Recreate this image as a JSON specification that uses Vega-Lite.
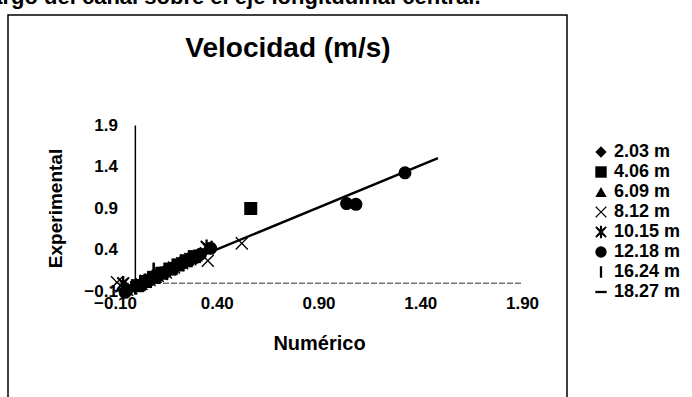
{
  "$schema": "https://vega.github.io/schema/vega-lite/v6.json",
  "width": 559,
  "height": 392,
  "autosize": {"type": "none"},
  "padding": {"left": 8, "top": 15, "right": 125, "bottom": -10},
  "background": "white",
  "datasets": {
    "puntos": [
      {"serie": "2.03 m", "numerico": -0.04, "experimental": -0.1},
      {"serie": "2.03 m", "numerico": 0.0, "experimental": -0.05},
      {"serie": "2.03 m", "numerico": 0.04, "experimental": 0.01},
      {"serie": "2.03 m", "numerico": 0.08, "experimental": 0.05},
      {"serie": "2.03 m", "numerico": 0.12, "experimental": 0.11},
      {"serie": "2.03 m", "numerico": 0.16, "experimental": 0.15},
      {"serie": "2.03 m", "numerico": 0.2, "experimental": 0.21},
      {"serie": "2.03 m", "numerico": 0.24, "experimental": 0.25},
      {"serie": "2.03 m", "numerico": 0.28, "experimental": 0.31},
      {"serie": "2.03 m", "numerico": 0.32, "experimental": 0.36},
      {"serie": "4.06 m", "numerico": 0.01, "experimental": -0.03},
      {"serie": "4.06 m", "numerico": 0.05, "experimental": 0.02},
      {"serie": "4.06 m", "numerico": 0.09, "experimental": 0.07},
      {"serie": "4.06 m", "numerico": 0.13, "experimental": 0.12},
      {"serie": "4.06 m", "numerico": 0.17, "experimental": 0.17},
      {"serie": "4.06 m", "numerico": 0.21, "experimental": 0.22},
      {"serie": "4.06 m", "numerico": 0.25, "experimental": 0.27},
      {"serie": "4.06 m", "numerico": 0.29, "experimental": 0.32},
      {"serie": "4.06 m", "numerico": 0.567, "experimental": 0.9},
      {"serie": "6.09 m", "numerico": 0.02, "experimental": -0.03},
      {"serie": "6.09 m", "numerico": 0.06, "experimental": 0.04},
      {"serie": "6.09 m", "numerico": 0.1, "experimental": 0.07},
      {"serie": "6.09 m", "numerico": 0.14, "experimental": 0.14},
      {"serie": "6.09 m", "numerico": 0.18, "experimental": 0.17},
      {"serie": "6.09 m", "numerico": 0.22, "experimental": 0.24},
      {"serie": "6.09 m", "numerico": 0.26, "experimental": 0.28},
      {"serie": "6.09 m", "numerico": 0.3, "experimental": 0.33},
      {"serie": "8.12 m", "numerico": -0.09, "experimental": 0.01},
      {"serie": "8.12 m", "numerico": -0.04, "experimental": -0.08},
      {"serie": "8.12 m", "numerico": 0.03, "experimental": -0.01},
      {"serie": "8.12 m", "numerico": 0.07, "experimental": 0.04},
      {"serie": "8.12 m", "numerico": 0.11, "experimental": 0.09},
      {"serie": "8.12 m", "numerico": 0.15, "experimental": 0.13},
      {"serie": "8.12 m", "numerico": 0.19, "experimental": 0.19},
      {"serie": "8.12 m", "numerico": 0.23, "experimental": 0.24},
      {"serie": "8.12 m", "numerico": 0.27, "experimental": 0.29},
      {"serie": "8.12 m", "numerico": 0.356, "experimental": 0.27},
      {"serie": "8.12 m", "numerico": 0.523, "experimental": 0.48},
      {"serie": "10.15 m", "numerico": -0.06, "experimental": 0.0},
      {"serie": "10.15 m", "numerico": -0.02, "experimental": -0.06},
      {"serie": "10.15 m", "numerico": 0.05, "experimental": 0.03},
      {"serie": "10.15 m", "numerico": 0.09, "experimental": 0.07},
      {"serie": "10.15 m", "numerico": 0.13, "experimental": 0.11},
      {"serie": "10.15 m", "numerico": 0.17, "experimental": 0.17},
      {"serie": "10.15 m", "numerico": 0.21, "experimental": 0.22},
      {"serie": "10.15 m", "numerico": 0.25, "experimental": 0.27},
      {"serie": "10.15 m", "numerico": 0.29, "experimental": 0.32},
      {"serie": "10.15 m", "numerico": 0.35, "experimental": 0.44},
      {"serie": "12.18 m", "numerico": -0.05, "experimental": -0.11},
      {"serie": "12.18 m", "numerico": 0.03, "experimental": -0.02},
      {"serie": "12.18 m", "numerico": 0.07, "experimental": 0.04},
      {"serie": "12.18 m", "numerico": 0.11, "experimental": 0.09},
      {"serie": "12.18 m", "numerico": 0.15, "experimental": 0.14},
      {"serie": "12.18 m", "numerico": 0.19, "experimental": 0.19},
      {"serie": "12.18 m", "numerico": 0.23, "experimental": 0.25},
      {"serie": "12.18 m", "numerico": 0.27, "experimental": 0.3},
      {"serie": "12.18 m", "numerico": 0.32, "experimental": 0.35},
      {"serie": "12.18 m", "numerico": 0.37, "experimental": 0.42},
      {"serie": "12.18 m", "numerico": 1.038, "experimental": 0.96},
      {"serie": "12.18 m", "numerico": 1.084, "experimental": 0.95},
      {"serie": "12.18 m", "numerico": 1.325, "experimental": 1.33},
      {"serie": "16.24 m", "numerico": 0.0, "experimental": -0.06},
      {"serie": "16.24 m", "numerico": 0.05, "experimental": 0.01},
      {"serie": "16.24 m", "numerico": 0.09, "experimental": 0.17},
      {"serie": "16.24 m", "numerico": 0.1, "experimental": 0.08},
      {"serie": "16.24 m", "numerico": 0.15, "experimental": 0.13},
      {"serie": "16.24 m", "numerico": 0.2, "experimental": 0.2},
      {"serie": "16.24 m", "numerico": 0.25, "experimental": 0.26},
      {"serie": "16.24 m", "numerico": 0.3, "experimental": 0.31},
      {"serie": "18.27 m", "numerico": 0.02, "experimental": -0.02},
      {"serie": "18.27 m", "numerico": 0.08, "experimental": 0.06},
      {"serie": "18.27 m", "numerico": 0.12, "experimental": 0.1},
      {"serie": "18.27 m", "numerico": 0.18, "experimental": 0.18},
      {"serie": "18.27 m", "numerico": 0.22, "experimental": 0.23},
      {"serie": "18.27 m", "numerico": 0.28, "experimental": 0.3},
      {"serie": "18.27 m", "numerico": 0.33, "experimental": 0.37}
    ],
    "tendencia": [
      {"numerico": -0.1, "experimental": -0.1},
      {"numerico": 1.487, "experimental": 1.508}
    ]
  },
  "layer": [
    {
      "data": {"values": [{}]},
      "mark": {"type": "rule", "color": "black", "strokeWidth": 1.5},
      "encoding": {
        "x": {"datum": 0, "type": "quantitative", "axis": null},
        "y": {"datum": -0.1, "type": "quantitative", "axis": null},
        "y2": {"datum": 1.9}
      }
    },
    {
      "data": {"values": [{}]},
      "mark": {"type": "rule", "color": "#333333", "strokeWidth": 1, "strokeDash": [6, 2]},
      "encoding": {
        "x": {"datum": -0.1, "type": "quantitative", "axis": null},
        "x2": {"datum": 1.9},
        "y": {"datum": 0, "type": "quantitative", "axis": null}
      }
    },
    {
      "data": {"name": "puntos"},
      "mark": {"type": "point", "filled": true, "size": 170, "opacity": 1, "color": "black", "strokeWidth": 0},
      "encoding": {
        "x": {
          "field": "numerico",
          "type": "quantitative",
          "scale": {"domain": [-0.6258, 2.1211], "nice": false, "zero": false},
          "axis": {
            "orient": "bottom",
            "offset": -123.8,
            "values": [-0.1, 0.4, 0.9, 1.4, 1.9],
            "format": ".2f",
            "domain": false,
            "ticks": false,
            "grid": false,
            "labelPadding": 12,
            "labelFlush": false,
            "labelFont": "Liberation Sans, Arial",
            "labelFontSize": 17,
            "labelFontWeight": "bold",
            "labelColor": "black",
            "title": "Numérico",
            "titleFont": "Liberation Sans, Arial",
            "titleFontSize": 20,
            "titleFontWeight": "bold",
            "titleColor": "black",
            "titleX": 311,
            "titleY": 60,
            "titleBaseline": "middle"
          }
        },
        "y": {
          "field": "experimental",
          "type": "quantitative",
          "scale": {"domain": [-1.4916, 3.2313], "nice": false, "zero": false},
          "axis": {
            "orient": "left",
            "offset": -127.35,
            "values": [-0.1, 0.4, 0.9, 1.4, 1.9],
            "format": ".1f",
            "domain": false,
            "ticks": false,
            "grid": false,
            "labelPadding": 18,
            "labelFont": "Liberation Sans, Arial",
            "labelFontSize": 17,
            "labelFontWeight": "bold",
            "labelColor": "black",
            "title": "Experimental",
            "titleFont": "Liberation Sans, Arial",
            "titleFontSize": 19,
            "titleFontWeight": "bold",
            "titleColor": "black",
            "titleX": -80,
            "titleY": 193,
            "titleBaseline": "middle",
            "titleAngle": -90
          }
        },
        "shape": {
          "field": "serie",
          "type": "nominal",
          "scale": {
            "domain": ["2.03 m", "4.06 m", "6.09 m", "8.12 m", "10.15 m", "12.18 m", "16.24 m", "18.27 m"],
            "range": [
              "diamond",
              "square",
              "triangle-up",
              "M-0.85,-1L0,-0.15L0.85,-1L1,-0.85L0.15,0L1,0.85L0.85,1L0,0.15L-0.85,1L-1,0.85L-0.15,0L-1,-0.85Z",
              "M-0.8,-1L0,-0.3L0.8,-1L1,-0.8L0.3,0L1,0.8L0.8,1L0,0.3L-0.8,1L-1,0.8L-0.3,0L-1,-0.8ZM-0.18,-1.1L0.18,-1.1L0.18,1.1L-0.18,1.1Z",
              "circle",
              "M-0.2,-1L0.2,-1L0.2,1L-0.2,1Z",
              "M-1,-0.2L1,-0.2L1,0.2L-1,0.2Z"
            ]
          },
          "legend": {
            "orient": "none",
            "legendX": 584,
            "legendY": 128,
            "title": null,
            "padding": 0,
            "symbolSize": 130,
            "symbolFillColor": "black",
            "symbolStrokeWidth": 0,
            "labelFont": "Liberation Sans, Arial",
            "labelFontSize": 18,
            "labelFontWeight": "bold",
            "labelColor": "black",
            "labelOffset": 4,
            "rowPadding": 2
          }
        }
      }
    },
    {
      "data": {"name": "tendencia"},
      "mark": {"type": "line", "color": "black", "strokeWidth": 2.5},
      "encoding": {
        "x": {
          "field": "numerico",
          "type": "quantitative",
          "axis": {
            "orient": "top",
            "labels": false,
            "ticks": false,
            "domain": false,
            "grid": false,
            "title": "Velocidad (m/s)",
            "titleFont": "Liberation Sans, Arial",
            "titleFontSize": 28,
            "titleFontWeight": "bold",
            "titleColor": "black",
            "titleAlign": "center",
            "titleX": 279.5,
            "titleY": 33,
            "titleBaseline": "middle"
          }
        },
        "y": {
          "field": "experimental",
          "type": "quantitative",
          "axis": {
            "orient": "right",
            "labels": false,
            "ticks": false,
            "domain": false,
            "grid": false,
            "title": "a lo largo del canal sobre el eje longitudinal central.",
            "titleFont": "Liberation Sans, Arial",
            "titleFontSize": 22,
            "titleFontWeight": "bold",
            "titleColor": "black",
            "titleAngle": 0,
            "titleAlign": "right",
            "titleX": -87,
            "titleY": -12,
            "titleBaseline": "alphabetic"
          }
        }
      }
    }
  ],
  "resolve": {"axis": {"x": "independent", "y": "independent"}},
  "config": {
    "view": {"stroke": "black", "strokeWidth": 1.5},
    "font": "Liberation Sans, Arial"
  }
}
